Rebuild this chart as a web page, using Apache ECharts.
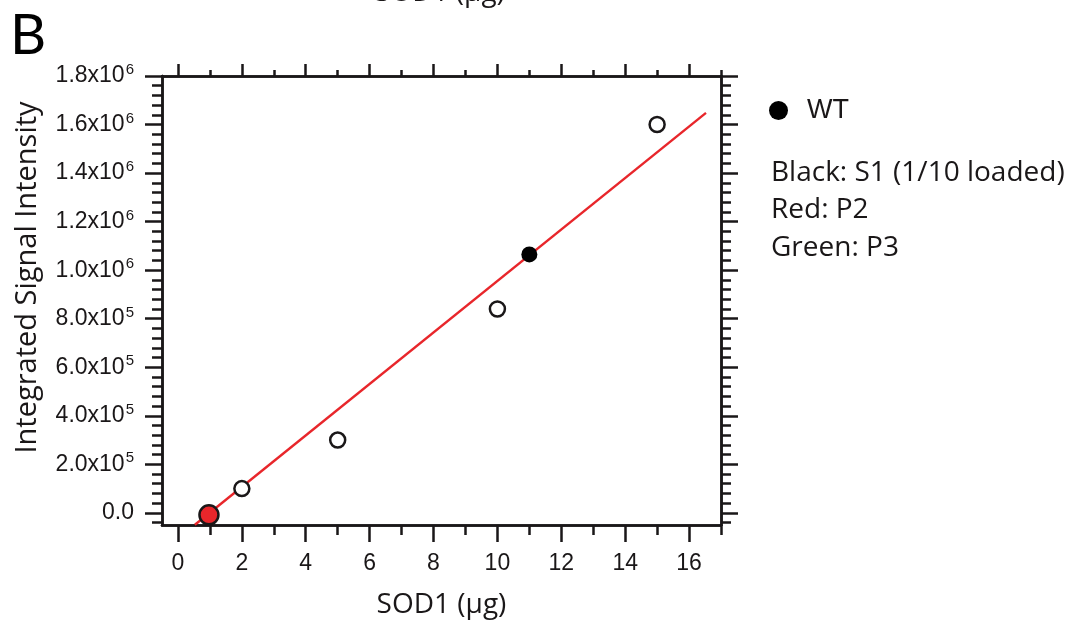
<!DOCTYPE html>
<html>
<head>
<meta charset="utf-8">
<script src="https://cdn.jsdelivr.net/npm/echarts@6/dist/echarts.min.js"></script>
<style>html,body{margin:0;padding:0;background:#fff}#c{width:1077px;height:624px}</style>
</head>
<body>
<div id="c"></div>
<script>
// ---- data ----
const stdX = [2, 5, 10, 15];
const stdY = [100000, 300000, 840000, 1600000];
const wtX = [11];
const wtY = [1065000];
const p2X = [0.97];
const p2Y = [-8000];
const fitX = [0.53, 16.53];
const fitY = [-49000, 1648000];
const xMajor = [0, 2, 4, 6, 8, 10, 12, 14, 16];
const xMinor = [1, 3, 5, 7, 9, 11, 13, 15, 17];
const yMajor = [0, 200000, 400000, 600000, 800000, 1000000, 1200000, 1400000, 1600000, 1800000];
const yMant = ['0.0', '2.0', '4.0', '6.0', '8.0', '1.0', '1.2', '1.4', '1.6', '1.8'];
const yExp = ['', '5', '5', '5', '5', '6', '6', '6', '6', '6'];
const notes = ['Black: S1 (1/10 loaded)', 'Red: P2', 'Green: P3'];
const xTitle = 'SOD1 (\u03bcg)';
const yTitle = 'Integrated Signal Intensity';
const panelLabel = 'B';

const yMinor = [];
for (let i = -1; i <= 44; i++) { if (i % 5 !== 0) yMinor.push(i * 40000); }

const zip = (a, b) => a.map((v, i) => [v, b[i]]);
const INK = '#1a1718';
const RED = '#e8262b';
const TICKF = 'Liberation Sans';
const TITLEF = 'Open Sans';
const LW = 2.5;

const xRange = { min: -0.5, max: 17 };
const yRange = { min: -50000, max: 1800000 };

function xAx(pos, vals, len, labels) {
  return {
    type: 'value', position: pos, ...xRange,
    splitLine: { show: false },
    axisLine: { show: true, onZero: false, lineStyle: { color: INK, width: LW } },
    axisTick: { show: true, inside: false, length: len, customValues: vals, lineStyle: { color: INK, width: LW } },
    axisLabel: labels ? { show: true, customValues: xMajor, margin: 27, color: INK, fontSize: 23, fontFamily: TICKF } : { show: false }
  };
}
function yAx(pos, vals, len, labels) {
  return {
    type: 'value', position: pos, ...yRange,
    splitLine: { show: false },
    axisLine: { show: true, onZero: false, lineStyle: { color: INK, width: LW } },
    axisTick: { show: true, inside: false, length: len, customValues: vals, lineStyle: { color: INK, width: LW } },
    axisLabel: labels ? {
      show: true, customValues: yMajor, margin: 28, color: INK,
      formatter: function (v) {
        const i = yMajor.indexOf(v);
        if (i < 0) return '';
        return yExp[i] ? '{m|' + yMant[i] + 'x10}{e|' + yExp[i] + '}' : '{m|' + yMant[i] + '}';
      },
      rich: {
        m: { fontSize: 23, fontFamily: TICKF, color: INK },
        e: { fontSize: 15, fontFamily: TICKF, color: INK, verticalAlign: 'bottom', padding: [0, 0, 12, 1] }
      }
    } : { show: false }
  };
}

const xAxes = [
  xAx('bottom', xMajor, 17, true),
  xAx('bottom', xMinor, 10, false),
  xAx('top', xMajor, 12, false),
  xAx('top', xMinor, 6, false)
];
xAxes[0].name = xTitle;
xAxes[0].nameLocation = 'middle';
xAxes[0].nameGap = 66;
xAxes[0].nameTextStyle = { fontSize: 28, fontFamily: TITLEF, color: INK };

const yAxes = [
  yAx('left', yMajor, 17, true),
  yAx('left', yMinor, 10, false),
  yAx('right', yMajor, 17, false),
  yAx('right', yMinor, 10, false)
];
yAxes[0].name = yTitle;
yAxes[0].nameLocation = 'middle';
yAxes[0].nameGap = 120;
yAxes[0].nameTextStyle = { fontSize: 29, fontFamily: TITLEF, color: INK, padding: [0, 0, 0, 46] };

const chart = echarts.init(document.getElementById('c'), null, { renderer: 'canvas' });
chart.setOption({
  backgroundColor: '#fff',
  animation: false,
  grid: { left: 162, right: 356, top: 76, bottom: 98, containLabel: false },
  xAxis: xAxes,
  yAxis: yAxes,
  legend: {
    data: ['WT'], left: 764, top: 92, icon: 'circle', itemWidth: 19, itemHeight: 19, itemGap: 0,
    textStyle: { fontSize: 27, fontFamily: TICKF, color: INK, padding: [0, 0, 0, 14] }
  },
  graphic: [
    { type: 'text', left: 10, top: 8, style: { text: panelLabel, fontSize: 56, fontFamily: 'Lato', fill: '#000' } },
    { type: 'text', x: 440, y: -7, style: { text: xTitle, fontSize: 28, fontFamily: TITLEF, fill: INK, align: 'center', verticalAlign: 'middle' } },
    { type: 'text', x: 771, y: 173, style: { text: notes[0], fontSize: 28, fontFamily: TITLEF, fill: INK, verticalAlign: 'middle' } },
    { type: 'text', x: 771, y: 210, style: { text: notes[1], fontSize: 28, fontFamily: TITLEF, fill: INK, verticalAlign: 'middle' } },
    { type: 'text', x: 771, y: 248, style: { text: notes[2], fontSize: 28, fontFamily: TITLEF, fill: INK, verticalAlign: 'middle' } }
  ],
  series: [
    { name: 'fit', type: 'line', data: zip(fitX, fitY), symbol: 'none', lineStyle: { color: RED, width: 2.4 }, z: 1, silent: true },
    { name: 'standards', type: 'scatter', data: zip(stdX, stdY), symbolSize: 15, itemStyle: { color: '#fff', borderColor: INK, borderWidth: 2.5, opacity: 1 }, z: 3 },
    { name: 'WT', type: 'scatter', data: zip(wtX, wtY), symbolSize: 16, itemStyle: { color: '#000', opacity: 1 }, z: 3 },
    { name: 'P2', type: 'scatter', data: zip(p2X, p2Y), symbolSize: 19, itemStyle: { color: RED, borderColor: INK, borderWidth: 2.5, opacity: 1 }, z: 4 }
  ]
});
</script>
</body>
</html>
